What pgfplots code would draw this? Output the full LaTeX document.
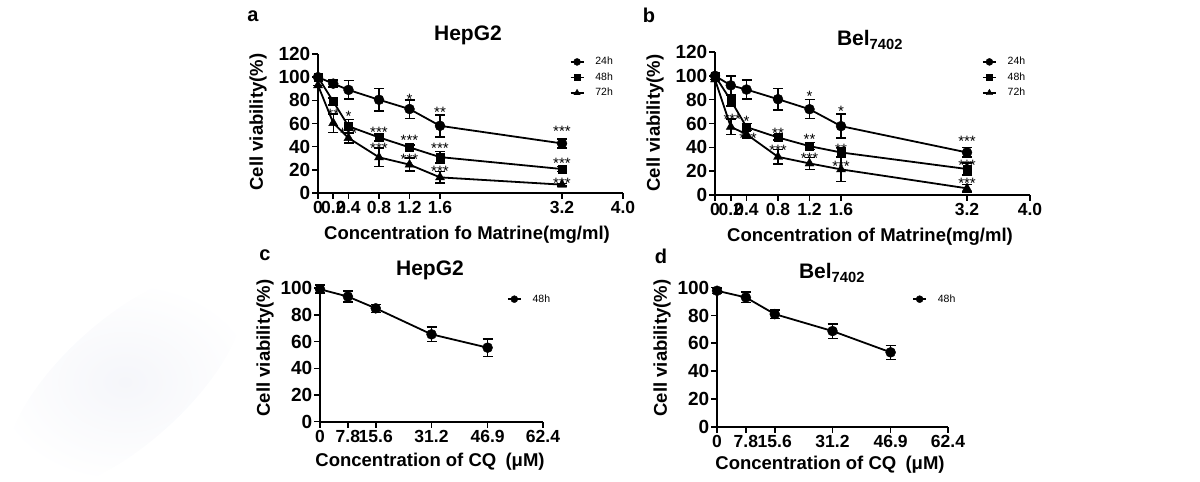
\documentclass[border=0pt]{standalone}
\usepackage{pgfplots}
\pgfplotsset{compat=1.18}
\usepackage{pgfplotstable}
\usepackage{fontspec}
\setmainfont{Liberation Sans}

% Matrine, HepG2: concentration (mg/ml), viability (%), SD
\pgfplotstableread{
x   y     e
0   100   0
0.2 94.4  3
0.4 89    8
0.8 80.5  9.5
1.2 72.5  8
1.6 58    9.5
3.2 42.8  4
}\hepA
\pgfplotstableread{
x   y     e
0   100   0
0.2 79    3
0.4 57.6  6
0.8 48    3
1.2 39.4  2
1.6 31    5
3.2 20.7  2
}\hepB
\pgfplotstableread{
x   y     e
0   93    0
0.2 60.4  8
0.4 47.5  4.5
0.8 30.8  8
1.2 24.5  5.5
1.6 13.5  5
3.2 7.2   1
}\hepC
\pgfplotstableread{
x    y     s
1.2  83.5  *
1.6  72    **
3.2  56    ***
0.2  70.5  **
0.4  69    *
0.8  55    ***
1.2  48    ***
1.6  41    ***
3.2  28    ***
0.4  54    ***
0.8  41    ***
1.2  32    ***
1.6  21.5  ***
3.2  10.5  ***
}\hepStars

% Matrine, Bel7402
\pgfplotstableread{
x   y     e
0   100   0
0.2 92    8
0.4 88.5  8
0.8 80.4  9
1.2 72    8
1.6 57.8  10
3.2 35.7  4
}\belA
\pgfplotstableread{
x   y     e
0   100   0
0.2 79.5  5
0.4 57    3
0.8 48.3  2
1.2 41    3
1.6 35.7  4
3.2 21.8  5
}\belB
\pgfplotstableread{
x   y     e
0   97    0
0.2 57.2  6.5
0.4 51    3
0.8 32    6
1.2 26.5  5
1.6 21.5  10
3.2 5.6   3
}\belC
\pgfplotstableread{
x     y     s
1.2   85.7  *
1.6   72.5  *
3.2   47.5  ***
0.22  65.6  ***
0.4   64    *
0.8   54.4  **
1.2   49    **
1.6   40.5  **
3.2   27    ***
0.42  50    ***
0.8   40    ***
1.2   33.5  ***
1.6   26.5  ***
3.2   12.5  ***
}\belStars

% CQ, 48h
\pgfplotstableread{
x     y     e
0     99.3  3
7.8   93.8  4
15.6  85    3
31.2  65.5  5.5
46.9  55.5  6.5
}\hepCQ
\pgfplotstableread{
x     y     e
0     97.8  2
7.8   93    3.8
15.6  81    3
31.2  68.8  5.2
46.9  53.5  5
}\belCQ

\pgfplotsset{
  viab/.style={
    scale only axis, axis lines=left, axis line style={-, line width=1.8pt},
    tick align=outside, major tick length=6pt,
    every tick/.style={black, line width=1.6pt},
    ymin=0, clip=false,
    /pgf/number format/assume math mode=true,
    xticklabel style={font=\fontsize{17.5}{17.5}\selectfont\bfseries, inner sep=2pt},
    yticklabel style={font=\fontsize{19}{19}\selectfont\bfseries, inner sep=1.5pt},
    every axis plot/.append style={black, line width=1.8pt},
    legend style={draw=none, fill=none, inner sep=0pt, row sep=3.5pt,
      font=\fontsize{10.5}{10.5}\selectfont,
      nodes={inner sep=1pt, text height=8pt, text depth=2pt},
      /tikz/every odd column/.append style={column sep=10pt}},
    legend cell align=left,
    legend image code/.code={\draw[mark repeat=2, mark phase=2, ##1, line width=1.5pt,
      every mark/.append style={scale=0.7}]
      plot coordinates {(0pt,0pt) (6.5pt,0pt) (13pt,0pt)};},
  },
  ebar/.style={error bars/.cd, y dir=both, y explicit,
    error bar style={line width=1.5pt, black},
    error mark options={rotate=90, mark size=5pt, line width=1.5pt, black}},
  stars/.style={draw=none, mark=none, nodes near coords, point meta=explicit symbolic,
    nodes near coords style={anchor=center, yshift=-3pt,
      font=\fontsize{15}{15}\selectfont, black, inner sep=0pt}},
  m24/.style={mark=*, mark size=5pt, mark options={line width=0.4pt}},
  m48/.style={mark=square*, mark size=4pt, mark options={line width=0.4pt}},
  m72/.style={mark=triangle*, mark size=5.2pt, mark options={line width=0.4pt}},
}

\newcommand\lblfont{\fontsize{18.5}{18.5}\selectfont\bfseries}

\begin{document}
\begin{tikzpicture}
\path[use as bounding box] (0,0) rectangle (1200pt,482pt);
\shade[inner color={rgb,255:red,245;green,246;blue,250}, outer color=white,
  rotate around={42:(125pt,100pt)}] (125pt,100pt) ellipse (150pt and 62pt);

% (a) HepG2, matrine
\begin{axis}[viab, at={(318pt,289pt)}, anchor=south west, width=305pt, height=139pt,
  xmin=0, xmax=4, ymax=120,
  xtick={0,0.2,0.4,0.8,1.2,1.6,3.2,4.0},
  xticklabels={0,0.2,0.4,0.8,1.2,1.6,3.2,4.0},
  ytick={0,20,...,120},
  legend style={at={(0.825,0.9875)}, anchor=north west}]
\addplot[m24, ebar] table[x=x, y=y, y error=e] {\hepA};
\addplot[m48, ebar] table[x=x, y=y, y error=e] {\hepB};
\addplot[m72, ebar] table[x=x, y=y, y error=e] {\hepC};
\legend{24h,48h,72h}
\addplot[stars] table[x=x, y=y, meta=s] {\hepStars};
\end{axis}

% (b) Bel7402, matrine
\begin{axis}[viab, at={(715pt,287pt)}, anchor=south west, width=315pt, height=143pt,
  xmin=0, xmax=4, ymax=120,
  xtick={0,0.2,0.4,0.8,1.2,1.6,3.2,4.0},
  xticklabels={0,0.2,0.4,0.8,1.2,1.6,3.2,4.0},
  ytick={0,20,...,120},
  legend style={at={(0.8475,0.974)}, anchor=north west}]
\addplot[m24, ebar] table[x=x, y=y, y error=e] {\belA};
\addplot[m48, ebar] table[x=x, y=y, y error=e] {\belB};
\addplot[m72, ebar] table[x=x, y=y, y error=e] {\belC};
\legend{24h,48h,72h}
\addplot[stars] table[x=x, y=y, meta=s] {\belStars};
\end{axis}

% (c) HepG2, CQ
\begin{axis}[viab, at={(320pt,60.3pt)}, anchor=south west, width=223pt, height=133.4pt,
  xmin=0, xmax=62.4, ymax=100,
  xtick={0,7.8,15.6,31.2,46.9,62.4},
  xticklabels={0,7.8,15.6,31.2,46.9,62.4},
  ytick={0,20,...,100},
  legend style={at={(0.838,0.965)}, anchor=north west}]
\addplot[m24, ebar] table[x=x, y=y, y error=e] {\hepCQ};
\legend{48h}
\end{axis}

% (d) Bel7402, CQ
\begin{axis}[viab, at={(717pt,55.3pt)}, anchor=south west, width=231pt, height=139pt,
  xmin=0, xmax=62.4, ymax=100,
  xtick={0,7.8,15.6,31.2,46.9,62.4},
  xticklabels={0,7.8,15.6,31.2,46.9,62.4},
  ytick={0,20,...,100},
  legend style={at={(0.845,0.962)}, anchor=north west}]
\addplot[m24, ebar] table[x=x, y=y, y error=e] {\belCQ};
\legend{48h}
\end{axis}

% panel letters
\begin{scope}[every node/.style={font=\fontsize{20}{20}\selectfont\bfseries}]
\node at (253pt,466pt) {a};
\node at (649pt,467pt) {b};
\node at (265pt,227pt) {c};
\node at (661pt,226pt) {d};
\end{scope}

% titles
\begin{scope}[every node/.style={font=\fontsize{21}{21}\selectfont\bfseries}]
\node at (468pt,447pt) {HepG2};
\node at (870pt,442pt) {Bel\textsubscript{7402}};
\node at (430pt,212pt) {HepG2};
\node at (832pt,209pt) {Bel\textsubscript{7402}};
\end{scope}

% axis labels
\node[font=\lblfont] at (467pt,247pt) {Concentration fo Matrine(mg/ml)};
\node[font=\lblfont] at (870pt,245pt) {Concentration of Matrine(mg/ml)};
\node[font=\lblfont] at (430pt,20pt) {Concentration of CQ\hspace{0.5em}(μM)};
\node[font=\lblfont] at (830pt,17pt) {Concentration of CQ\hspace{0.5em}(μM)};
\node[font=\lblfont, rotate=90] at (258pt,360pt) {Cell viability(\%)};
\node[font=\lblfont, rotate=90] at (655pt,359pt) {Cell viability(\%)};
\node[font=\lblfont, rotate=90] at (265pt,134pt) {Cell viability(\%)};
\node[font=\lblfont, rotate=90] at (662pt,134pt) {Cell viability(\%)};
\end{tikzpicture}
\end{document}
